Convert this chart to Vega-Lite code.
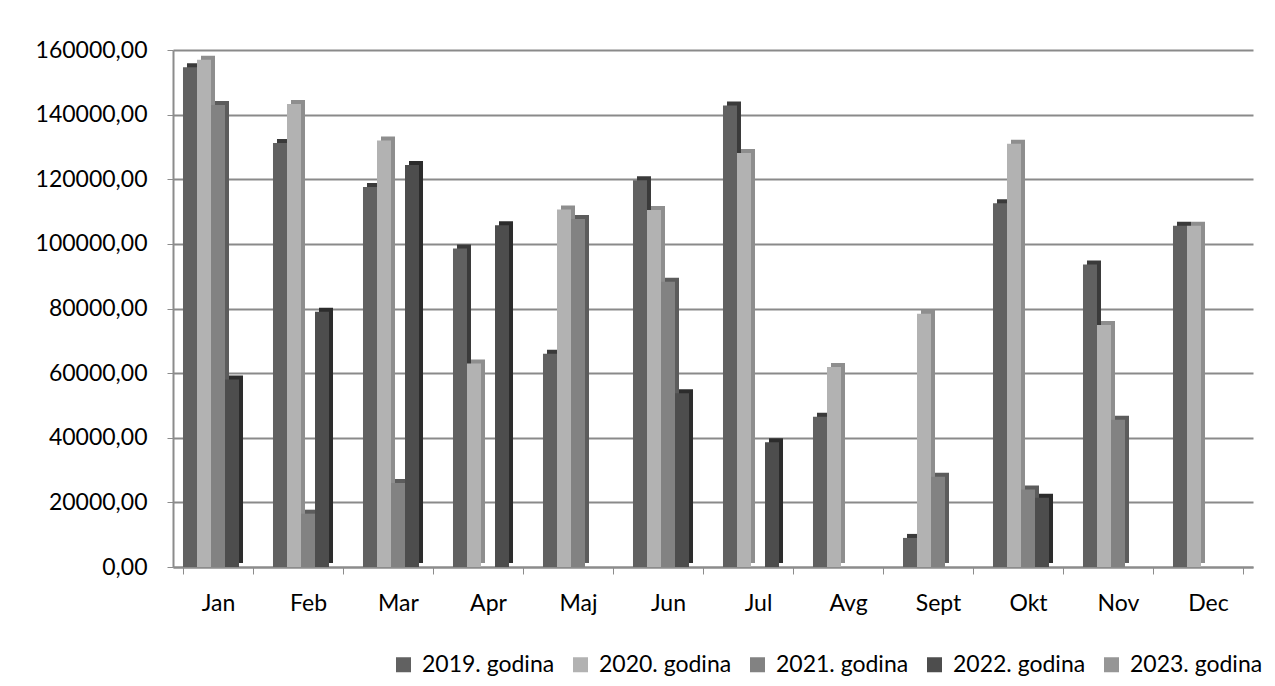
{
  "$schema": "https://vega.github.io/schema/vega-lite/v6.json",
  "width": 1080,
  "height": 517,
  "autosize": {"type": "none"},
  "padding": {"left": 173, "top": 50, "right": 22, "bottom": 119},
  "background": "white",
  "data": {
    "values": [
      {"mjesec": "Jan", "godina": "2019. godina", "iznos": 154700},
      {"mjesec": "Jan", "godina": "2020. godina", "iznos": 157000},
      {"mjesec": "Jan", "godina": "2021. godina", "iznos": 143000},
      {"mjesec": "Jan", "godina": "2022. godina", "iznos": 58000},
      {"mjesec": "Jan", "godina": "2023. godina", "iznos": 0},
      {"mjesec": "Feb", "godina": "2019. godina", "iznos": 131200},
      {"mjesec": "Feb", "godina": "2020. godina", "iznos": 143300},
      {"mjesec": "Feb", "godina": "2021. godina", "iznos": 16500},
      {"mjesec": "Feb", "godina": "2022. godina", "iznos": 79000},
      {"mjesec": "Feb", "godina": "2023. godina", "iznos": 0},
      {"mjesec": "Mar", "godina": "2019. godina", "iznos": 117600},
      {"mjesec": "Mar", "godina": "2020. godina", "iznos": 132000},
      {"mjesec": "Mar", "godina": "2021. godina", "iznos": 26000},
      {"mjesec": "Mar", "godina": "2022. godina", "iznos": 124400},
      {"mjesec": "Mar", "godina": "2023. godina", "iznos": 0},
      {"mjesec": "Apr", "godina": "2019. godina", "iznos": 98600},
      {"mjesec": "Apr", "godina": "2020. godina", "iznos": 63000},
      {"mjesec": "Apr", "godina": "2021. godina", "iznos": 0},
      {"mjesec": "Apr", "godina": "2022. godina", "iznos": 105800},
      {"mjesec": "Apr", "godina": "2023. godina", "iznos": 0},
      {"mjesec": "Maj", "godina": "2019. godina", "iznos": 66000},
      {"mjesec": "Maj", "godina": "2020. godina", "iznos": 110600},
      {"mjesec": "Maj", "godina": "2021. godina", "iznos": 107700},
      {"mjesec": "Maj", "godina": "2022. godina", "iznos": 0},
      {"mjesec": "Maj", "godina": "2023. godina", "iznos": 0},
      {"mjesec": "Jun", "godina": "2019. godina", "iznos": 119700},
      {"mjesec": "Jun", "godina": "2020. godina", "iznos": 110500},
      {"mjesec": "Jun", "godina": "2021. godina", "iznos": 88300},
      {"mjesec": "Jun", "godina": "2022. godina", "iznos": 53800},
      {"mjesec": "Jun", "godina": "2023. godina", "iznos": 0},
      {"mjesec": "Jul", "godina": "2019. godina", "iznos": 142800},
      {"mjesec": "Jul", "godina": "2020. godina", "iznos": 128100},
      {"mjesec": "Jul", "godina": "2021. godina", "iznos": 0},
      {"mjesec": "Jul", "godina": "2022. godina", "iznos": 38600},
      {"mjesec": "Jul", "godina": "2023. godina", "iznos": 0},
      {"mjesec": "Avg", "godina": "2019. godina", "iznos": 46500},
      {"mjesec": "Avg", "godina": "2020. godina", "iznos": 61900},
      {"mjesec": "Avg", "godina": "2021. godina", "iznos": 0},
      {"mjesec": "Avg", "godina": "2022. godina", "iznos": 0},
      {"mjesec": "Avg", "godina": "2023. godina", "iznos": 0},
      {"mjesec": "Sept", "godina": "2019. godina", "iznos": 9000},
      {"mjesec": "Sept", "godina": "2020. godina", "iznos": 78400},
      {"mjesec": "Sept", "godina": "2021. godina", "iznos": 27900},
      {"mjesec": "Sept", "godina": "2022. godina", "iznos": 0},
      {"mjesec": "Sept", "godina": "2023. godina", "iznos": 0},
      {"mjesec": "Okt", "godina": "2019. godina", "iznos": 112600},
      {"mjesec": "Okt", "godina": "2020. godina", "iznos": 131000},
      {"mjesec": "Okt", "godina": "2021. godina", "iznos": 24000},
      {"mjesec": "Okt", "godina": "2022. godina", "iznos": 21400},
      {"mjesec": "Okt", "godina": "2023. godina", "iznos": 0},
      {"mjesec": "Nov", "godina": "2019. godina", "iznos": 93600},
      {"mjesec": "Nov", "godina": "2020. godina", "iznos": 74900},
      {"mjesec": "Nov", "godina": "2021. godina", "iznos": 45600},
      {"mjesec": "Nov", "godina": "2022. godina", "iznos": 0},
      {"mjesec": "Nov", "godina": "2023. godina", "iznos": 0},
      {"mjesec": "Dec", "godina": "2019. godina", "iznos": 105600},
      {"mjesec": "Dec", "godina": "2020. godina", "iznos": 105600},
      {"mjesec": "Dec", "godina": "2021. godina", "iznos": 0},
      {"mjesec": "Dec", "godina": "2022. godina", "iznos": 0},
      {"mjesec": "Dec", "godina": "2023. godina", "iznos": 0}
    ]
  },
  "encoding": {
    "x": {
      "field": "mjesec",
      "type": "nominal",
      "sort": null,
      "scale": {"paddingInner": 0.222, "paddingOuter": 0.111},
      "axis": {
        "title": null,
        "labelAngle": 0,
        "labelFont": "Lato",
        "labelFontSize": 23,
        "labelColor": "#000000",
        "labelPadding": 18,
        "tickBand": "extent",
        "tickSize": 7,
        "tickColor": "#8c8c8c",
        "domainColor": "#8c8c8c",
        "domainWidth": 2,
        "grid": false
      }
    },
    "y": {
      "field": "iznos",
      "type": "quantitative",
      "scale": {"domain": [0, 160000], "nice": false},
      "axis": {
        "title": null,
        "values": [0, 20000, 40000, 60000, 80000, 100000, 120000, 140000, 160000],
        "labelExpr": "replace(format(datum.value, '.2f'), '.', ',')",
        "labelFont": "Lato",
        "labelFontSize": 23,
        "labelColor": "#000000",
        "labelPadding": 20,
        "tickSize": 6,
        "tickColor": "#8c8c8c",
        "domainColor": "#8c8c8c",
        "domainWidth": 2,
        "grid": true,
        "gridColor": "#8a8a8a",
        "gridWidth": 2
      }
    }
  },
  "layer": [
    {
      "mark": {"type": "bar", "yOffset": -4},
      "encoding": {
        "xOffset": {
          "field": "godina",
          "type": "nominal",
          "scale": {"range": [4, 74.02], "paddingInner": 0, "paddingOuter": 0}
        },
        "color": {
          "field": "godina",
          "type": "nominal",
          "legend": null,
          "scale": {"range": ["#3a3a3a", "#8e8e8e", "#5c5c5c", "#2c2c2c", "#707070"]}
        }
      }
    },
    {
      "mark": {"type": "bar"},
      "encoding": {
        "xOffset": {
          "field": "godina",
          "type": "nominal",
          "scale": {"paddingInner": 0, "paddingOuter": 0}
        },
        "color": {
          "field": "godina",
          "type": "nominal",
          "scale": {"range": ["#616161", "#b2b2b2", "#828282", "#4d4d4d", "#969696"]},
          "legend": {
            "title": null,
            "orient": "none",
            "direction": "horizontal",
            "legendX": 219,
            "legendY": 603,
            "padding": 0,
            "symbolType": "square",
            "symbolSize": 225,
            "symbolStrokeWidth": 0,
            "symbolOpacity": 1,
            "labelFont": "Lato",
            "labelFontSize": 23,
            "labelColor": "#000000",
            "labelOffset": 7,
            "columnPadding": 14,
            "labelLimit": 300
          }
        }
      }
    }
  ],
  "resolve": {"scale": {"color": "independent", "xOffset": "independent"}},
  "config": {
    "view": {"stroke": null}
  }
}
